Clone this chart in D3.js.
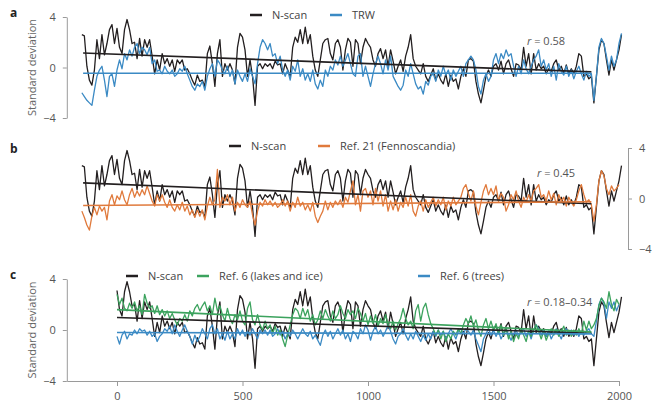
<!DOCTYPE html>
<html>
<head>
<meta charset="utf-8">
<script src="https://cdn.jsdelivr.net/npm/d3@7"></script>
<style>
  body { margin: 0; background: #fff; }
  svg { display: block; font-family: "Open Sans", sans-serif; }
  .axis path, .axis line { stroke: #9a9a9a; }
  .axis text { fill: #555; font-size: 11px; font-family: "Open Sans", sans-serif; }
</style>
</head>
<body>
<div id="chart"></div>
<script>
// anos (passo de 10 anos) de -140 a 2010
const years = [-140,-130,-120,-110,-100,-90,-80,-70,-60,-50,-40,-30,-20,-10,
  0,10,20,30,40,50,60,70,80,90,100,110,120,130,140,150,160,170,180,190,
  200,210,220,230,240,250,260,270,280,290,300,310,320,330,340,350,360,370,380,390,
  400,410,420,430,440,450,460,470,480,490,500,510,520,530,540,550,560,570,580,590,
  600,610,620,630,640,650,660,670,680,690,700,710,720,730,740,750,760,770,780,790,
  800,810,820,830,840,850,860,870,880,890,900,910,920,930,940,950,960,970,980,990,
  1000,1010,1020,1030,1040,1050,1060,1070,1080,1090,1100,1110,1120,1130,1140,1150,1160,1170,1180,1190,
  1200,1210,1220,1230,1240,1250,1260,1270,1280,1290,1300,1310,1320,1330,1340,1350,1360,1370,1380,1390,
  1400,1410,1420,1430,1440,1450,1460,1470,1480,1490,1500,1510,1520,1530,1540,1550,1560,1570,1580,1590,
  1600,1610,1620,1630,1640,1650,1660,1670,1680,1690,1700,1710,1720,1730,1740,1750,1760,1770,1780,1790,
  1800,1810,1820,1830,1840,1850,1860,1870,1880,1890,1900,1910,1920,1930,1940,1950,1960,1970,1980,1990,
  2000,2010];

// N-scan (mesma serie nos tres paineis)
const nscan = [2.6,2.5,0.1,-1.0,-1.4,-0.2,2.2,0.7,2.6,1.0,1.9,3.0,3.4,1.9,
  3.1,1.6,1.1,3.0,3.8,3.0,1.9,2.0,0.7,2.3,0.9,2.2,1.6,2.2,0.9,-0.5,0.6,-0.2,1.1,0.3,
  0.7,0.1,0.6,-0.3,0.6,0.3,0.6,-0.2,-0.1,-0.5,-1.0,-1.4,-0.6,-1.1,-1.0,-1.5,1.1,1.7,0.3,-1.5,
  1.1,2.2,-0.7,0.3,-0.2,0.3,-0.2,-1.3,1.6,2.7,2.4,1.4,-0.7,0.6,-0.7,-3.0,0.1,0.3,-0.1,0.3,
  0.1,0.3,-0.1,0.5,0.2,0.3,-0.5,0.3,-0.2,-0.7,1.6,2.4,2.0,3.0,1.9,3.2,1.9,2.6,0.9,-0.2,
  -0.7,0.6,1.9,2.2,2.3,1.1,0.6,1.9,2.2,1.6,-0.2,1.4,2.3,2.0,0.1,2.2,1.9,0.3,1.6,2.3,
  1.9,1.6,0.6,0.1,1.1,1.5,0.7,1.4,0.1,1.4,0.5,-0.5,0.1,0.6,-0.3,0.9,1.6,2.6,0.7,0.1,
  -0.2,-0.5,0.3,-0.7,-1.1,-0.6,-0.1,-1.0,-0.5,-1.0,-1.3,-0.5,-1.5,-0.6,-1.1,-0.9,-1.7,-0.7,-0.1,-0.7,
  0.6,0.7,0.5,-1.1,-2.1,-2.8,-1.8,-0.7,-0.2,-0.7,0.1,0.3,-0.2,0.5,-0.5,0.3,0.6,-0.1,-0.7,0.3,
  0.2,-0.2,1.6,0.1,1.1,-0.5,1.1,-0.2,0.3,-0.1,0.1,-0.5,-0.1,-0.3,0.3,0.6,-0.2,0.1,-0.5,0.2,
  -0.5,-0.1,-0.5,0.1,1.1,0.9,-0.7,-0.5,-0.9,-0.7,-2.8,-0.7,1.4,2.2,1.9,0.6,-0.6,0.6,-0.2,0.6,
  1.4,2.6];

// TRW (painel a)
const trw = [-2.0,-2.3,-2.6,-2.8,-3.0,-1.8,-0.7,-0.2,0.1,-1.0,-2.3,-0.7,-0.5,-1.5,
  -0.2,0.6,-0.1,1.1,0.6,1.4,0.9,1.6,1.9,1.1,1.6,1.4,1.0,1.6,0.3,0.6,-0.3,-0.2,-0.5,0.1,
  -0.3,-0.5,-0.2,-0.7,-0.5,-0.1,-0.3,0.1,-0.5,-1.0,-1.5,-1.8,-1.3,-1.5,-1.1,-1.8,-0.7,-0.1,0.3,-0.7,
  0.6,0.3,-0.2,-0.5,0.1,-0.7,-0.2,-1.3,-0.2,-0.7,-1.1,-0.5,-1.1,-0.1,-0.7,-1.3,0.3,1.6,2.2,1.9,
  1.4,1.9,0.9,1.1,0.3,0.9,-0.2,-0.7,-0.2,-1.0,0.1,-0.3,0.6,-0.7,-0.1,-1.0,-0.5,-1.1,-0.2,-1.3,
  -1.7,-1.0,-1.5,-0.2,-0.7,0.1,-0.2,0.6,0.2,0.9,0.1,0.6,1.1,0.3,-0.5,-0.7,0.9,1.1,-0.7,0.1,
  -0.7,-1.5,-0.5,0.3,0.9,0.3,-0.5,0.6,-0.2,0.9,-0.7,-1.1,-1.5,-1.8,-1.4,-0.2,-0.7,0.3,-0.5,-1.3,
  -1.7,-1.5,-2.1,-1.1,-1.4,-0.7,-0.5,-1.1,-0.2,-0.7,0.1,-0.6,-0.2,-1.0,-0.2,-0.7,-0.3,0.1,-0.7,0.3,
  0.6,0.9,0.6,-0.2,-1.5,-2.1,-1.0,-0.5,-1.1,-0.7,0.6,1.1,0.3,1.1,0.7,1.4,0.9,1.1,0.1,-0.7,
  0.1,-0.5,0.6,-0.1,-0.5,0.1,0.6,0.9,1.4,0.1,0.6,-0.2,0.3,-0.7,0.1,-1.0,0.3,-0.3,-0.6,0.1,
  -0.7,-0.2,-0.9,-0.3,0.1,-0.5,-1.0,-0.3,-0.7,-0.5,-2.6,-0.7,1.6,2.3,1.9,0.9,-0.2,0.9,0.1,0.6,
  1.9,2.7];

// Ref. 21 (Fennoscandia), -140 a 2000
const fenno = [-1.0,-1.5,-2.1,-2.5,-1.4,-0.7,-1.3,-0.6,-1.0,-0.7,-1.7,-0.2,0.3,-0.5,
  0.2,-0.1,0.6,-0.1,-0.5,0.3,0.8,0.1,0.6,0.2,0.7,0.3,1.0,0.4,-0.2,-0.6,0.3,-0.2,0.3,-0.3,
  -0.7,-0.1,-0.7,-1.0,-0.5,-0.9,-0.3,-1.0,-0.6,-1.3,-0.9,-1.5,-0.9,-1.4,-0.9,-1.7,-0.6,0.1,-0.5,-0.1,
  2.3,-0.7,0.1,-0.2,0.3,-0.5,0.1,-1.0,-0.3,-0.7,-0.1,-0.5,-0.7,-0.2,-1.3,-2.1,-1.0,-0.3,-0.6,-0.1,
  -0.5,-0.2,-0.6,-0.3,-0.7,-0.5,-0.1,-0.6,-0.2,-1.0,-0.3,-0.7,0.1,-0.6,-0.3,-0.9,-0.5,-1.0,-0.3,-1.4,
  -1.9,-1.4,-1.0,-0.2,-0.9,-0.3,-0.7,-0.2,-0.5,-0.1,-0.7,0.1,-0.3,0.6,1.4,-0.5,0.3,-1.0,0.6,0.8,
  0.1,0.6,-0.5,0.8,-0.2,0.6,-0.6,0.3,-1.0,-0.2,-0.9,-0.1,-1.0,-0.3,-0.7,0.1,-0.6,0.3,-1.0,-1.4,
  -0.6,-0.2,-1.0,-0.1,-0.7,-0.3,0.1,-0.6,-0.1,-0.5,0.1,-0.9,-0.2,-0.6,0.1,-0.5,-0.2,0.1,0.8,1.1,
  0.4,-0.2,0.6,-0.6,-1.3,-0.3,0.6,1.1,0.3,0.8,0.3,1.0,-0.2,0.4,0.1,-1.0,-0.5,0.3,-0.1,0.6,
  -0.2,-0.7,0.1,-0.3,0.3,-0.2,0.6,0.8,1.1,0.1,0.3,-0.2,0.6,-0.1,0.4,-0.5,0.3,-0.2,0.1,-0.6,
  0.1,-0.3,-0.6,-0.1,0.6,1.1,0.3,-0.3,-0.1,-0.5,-1.8,-0.5,1.4,2.2,1.8,0.8,0.3,1.0,0.6,0.8,
  1.1];

// Ref. 6 (lakes and ice) e Ref. 6 (trees), 0 a 2000
const lakes = [2.8,2.0,2.5,1.7,1.5,2.1,1.7,2.2,1.5,1.9,1.2,2.8,2.1,1.7,1.9,1.3,1.9,1.2,1.6,1.1,
  1.5,0.9,1.3,0.8,0.4,0.9,0.7,1.2,0.7,1.5,1.1,1.7,2.0,1.5,1.9,2.2,1.5,1.9,1.2,2.5,
  1.5,1.9,1.2,0.7,1.7,0.9,0.5,1.2,0.8,1.5,0.7,0.4,1.7,2.2,0.8,0.4,1.2,0.4,0.0,0.7,
  0.1,0.4,-0.3,0.3,-0.4,0.0,-0.7,-1.3,-0.4,0.4,1.2,1.7,1.5,0.9,1.7,1.1,1.6,0.7,1.2,0.4,
  0.8,1.5,0.9,1.6,1.1,0.7,1.5,0.9,1.2,1.9,1.3,0.9,1.6,1.2,1.5,0.9,1.7,1.3,0.7,1.3,
  0.4,1.1,0.5,1.2,0.3,0.9,0.5,1.2,0.4,0.1,0.7,0.0,0.5,0.9,1.7,0.9,0.4,0.7,0.1,1.5,
  2.0,0.7,1.7,2.1,1.2,0.5,0.1,-0.4,0.0,-0.7,-0.1,-0.9,-0.3,-0.7,-0.1,-0.4,0.1,-0.3,0.4,0.9,
  0.5,1.1,0.3,0.8,0.0,-0.5,0.4,0.9,0.1,0.7,0.0,0.5,-0.3,0.4,-0.4,0.1,-0.7,-0.1,-0.9,-0.3,
  -0.7,0.1,-0.4,-0.9,-0.1,-0.5,0.0,0.4,-0.1,-0.7,-0.1,-0.8,-0.3,0.1,-0.4,0.0,-0.5,-0.1,0.3,-0.4,
  0.0,-0.5,0.0,-0.4,0.1,-0.3,0.7,0.0,0.7,0.1,0.4,0.9,1.9,2.5,2.2,1.7,3.0,2.0,1.5,2.4,
  2.0];
const trees = [-0.5,-1.1,-0.4,-0.1,-0.7,-0.3,-0.4,0.0,-0.3,0.1,-0.1,0.0,-0.4,-0.1,-0.5,-0.3,-0.9,-0.5,-0.3,0.1,
  -0.1,0.3,-0.3,0.4,-0.1,-0.5,0.0,0.4,-0.1,-0.5,-1.1,-0.4,-0.9,-0.5,0.1,-0.3,-0.7,0.1,0.4,-0.3,
  0.1,-0.7,-0.3,-0.8,-0.1,-0.7,-0.3,-0.7,0.1,-0.4,0.0,-0.5,-0.1,-0.4,0.1,-0.3,-0.7,0.0,-0.3,0.0,
  -0.4,0.0,-0.5,-0.3,0.1,-0.4,-0.1,-0.7,-0.3,-0.5,0.0,-0.3,-0.7,-0.3,0.1,-0.3,-0.5,-0.1,-0.7,-0.4,
  -0.8,-1.2,-0.4,0.0,-0.5,-0.1,-0.7,-0.3,0.1,-0.4,0.0,-0.7,-0.3,-0.9,-0.1,-0.3,-0.7,0.1,-0.3,0.4,
  0.0,-0.8,-0.1,0.3,-0.3,0.0,-0.5,-0.1,0.4,-0.1,-0.7,-1.1,-0.5,-0.3,0.1,-0.4,-0.8,-0.3,-0.7,-0.1,
  -0.5,-0.9,-0.4,-0.8,-0.3,-0.7,-0.1,-0.5,0.0,-0.4,-0.1,-0.7,-0.3,0.1,-0.3,-0.7,-0.1,0.1,-0.3,0.1,
  -0.1,-0.4,0.0,-0.7,-1.2,-1.7,-0.7,-0.3,0.1,-0.4,0.0,-0.5,-0.1,-0.7,-0.3,0.1,-0.4,-0.8,-0.3,0.0,
  -0.5,-0.1,0.1,-0.5,-0.1,-0.7,0.0,0.4,0.1,-0.4,0.0,-0.5,-0.1,-0.7,-0.3,0.1,-0.3,-0.7,-0.1,0.1,
  -0.3,0.0,-0.4,-0.1,-0.5,-0.1,-0.4,-0.1,0.1,-0.3,-0.5,0.7,2.0,2.5,2.1,0.9,2.2,1.7,2.2,1.5,
  2.0];

// retas de tendencia: [inicio, fim]
const trendYearsAB = [-135, 1890];
const trendYearsC = [0, 1890];
const trendNscanA = [1.15, -0.35];
const trendTrw = [-0.45, -0.45];
const trendNscanB = [1.24, -0.42];
const trendFenno = [-0.56, -0.26];
const trendNscanC = [0.98, -0.26];
const trendLakes = [1.6, -0.15];
const trendTrees = [-0.2, -0.3];

const xTicks = [0, 500, 1000, 1500, 2000];
const yTicks = [-4, 0, 4];

const cores = { nscan: "#231f20", trw: "#3b8ac4", fenno: "#e07a3c", lakes: "#3ca35e", trees: "#3b8ac4" };

const width = 659, height = 403;
const svg = d3.select("#chart").append("svg")
    .attr("width", width)
    .attr("height", height);

const x = d3.scaleLinear().domain([-200, 2000]).range([66.8, 619]);
const yA = d3.scaleLinear().domain([-4, 4]).range([118, 17]);
const yB = d3.scaleLinear().domain([-4, 4]).range([249, 148]);
const yC = d3.scaleLinear().domain([-4, 4]).range([381, 279]);

const fmt = d => d < 0 ? "\u2212" + Math.abs(d) : String(d);

function serie(vals, anos, y, cor, w) {
    const pts = vals.map((v, i) => [anos[i], v]);
    svg.append("path")
        .datum(pts)
        .attr("fill", "none")
        .attr("stroke", cor)
        .attr("stroke-width", w || 1.3)
        .attr("stroke-linejoin", "round")
        .attr("d", d3.line().x(d => x(d[0])).y(d => y(d[1])));
}

function legenda(lx, ly, cor, texto) {
    svg.append("line")
        .attr("x1", lx).attr("x2", lx + 12)
        .attr("y1", ly).attr("y2", ly)
        .attr("stroke", cor).attr("stroke-width", 2.5);
    svg.append("text")
        .attr("x", lx + 22).attr("y", ly + 4)
        .attr("font-size", 11).attr("fill", "#444")
        .text(texto);
}

function rTexto(tx, ty, valor) {
    const t = svg.append("text").attr("x", tx).attr("y", ty)
        .attr("font-size", 11).attr("fill", "#555");
    t.append("tspan").attr("font-style", "italic").text("r");
    t.append("tspan").text(" = " + valor);
}

function letra(tx, ty, l) {
    svg.append("text").attr("x", tx).attr("y", ty)
        .attr("font-size", 12).attr("font-weight", "bold").attr("fill", "#222")
        .text(l);
}

function tituloY(y) {
    svg.append("text")
        .attr("transform", `translate(36,${y(0)}) rotate(-90)`)
        .attr("text-anchor", "middle")
        .attr("font-size", 11).attr("fill", "#666")
        .text("Standard deviation");
}

// ---------- painel a ----------
serie(nscan, years, yA, cores.nscan);
serie(trw, years, yA, cores.trw);
serie(trendNscanA, trendYearsAB, yA, cores.nscan, 1.6);
serie(trendTrw, trendYearsAB, yA, cores.trw, 1.6);

svg.append("g").attr("class", "axis")
    .attr("transform", "translate(66.8,0)")
    .call(d3.axisLeft(yA).tickValues(yTicks).tickSize(4).tickSizeOuter(0).tickPadding(7).tickFormat(fmt));
tituloY(yA);
letra(10, 17, "a");
legenda(250, 15, cores.nscan, "N-scan");
legenda(330, 15, cores.trw, "TRW");
rTexto(527, 45, "0.58");

// ---------- painel b ----------
serie(nscan, years, yB, cores.nscan);
serie(fenno, years.slice(0, fenno.length), yB, cores.fenno);
serie(trendNscanB, trendYearsAB, yB, cores.nscan, 1.6);
serie(trendFenno, trendYearsAB, yB, cores.fenno, 1.6);

svg.append("g").attr("class", "axis")
    .attr("transform", "translate(628,0)")
    .call(d3.axisRight(yB).tickValues(yTicks).tickSize(4).tickSizeOuter(0).tickPadding(7).tickFormat(fmt));
letra(10, 153, "b");
legenda(229, 146, cores.nscan, "N-scan");
legenda(318, 146, cores.fenno, "Ref. 21 (Fennoscandia)");
rTexto(537, 177, "0.45");

// ---------- painel c ----------
const anosC = years.filter(a => a >= 0 && a <= 2000);
const i0 = years.indexOf(0);
serie(nscan.slice(i0), years.slice(i0), yC, cores.nscan);
serie(trees, anosC, yC, cores.trees);
serie(lakes, anosC, yC, cores.lakes);
serie(trendNscanC, trendYearsC, yC, cores.nscan, 1.6);
serie(trendTrees, trendYearsC, yC, cores.trees, 1.6);
serie(trendLakes, trendYearsC, yC, cores.lakes, 1.6);

svg.append("g").attr("class", "axis")
    .attr("transform", "translate(66.8,0)")
    .call(d3.axisLeft(yC).tickValues(yTicks).tickSize(4).tickSizeOuter(0).tickPadding(7).tickFormat(fmt));
svg.append("g").attr("class", "axis")
    .attr("transform", "translate(0,381)")
    .call(d3.axisBottom(x).tickValues(xTicks).tickSize(5).tickSizeOuter(0).tickPadding(6).tickFormat(d3.format("d")))
    .call(g => g.selectAll("text").attr("font-size", 12));
tituloY(yC);
letra(10, 279, "c");
legenda(126, 276, cores.nscan, "N-scan");
legenda(197, 276, cores.lakes, "Ref. 6 (lakes and ice)");
legenda(418, 276, cores.trees, "Ref. 6 (trees)");
rTexto(527, 306, "0.18\u20130.34");
</script>
</body>
</html>
